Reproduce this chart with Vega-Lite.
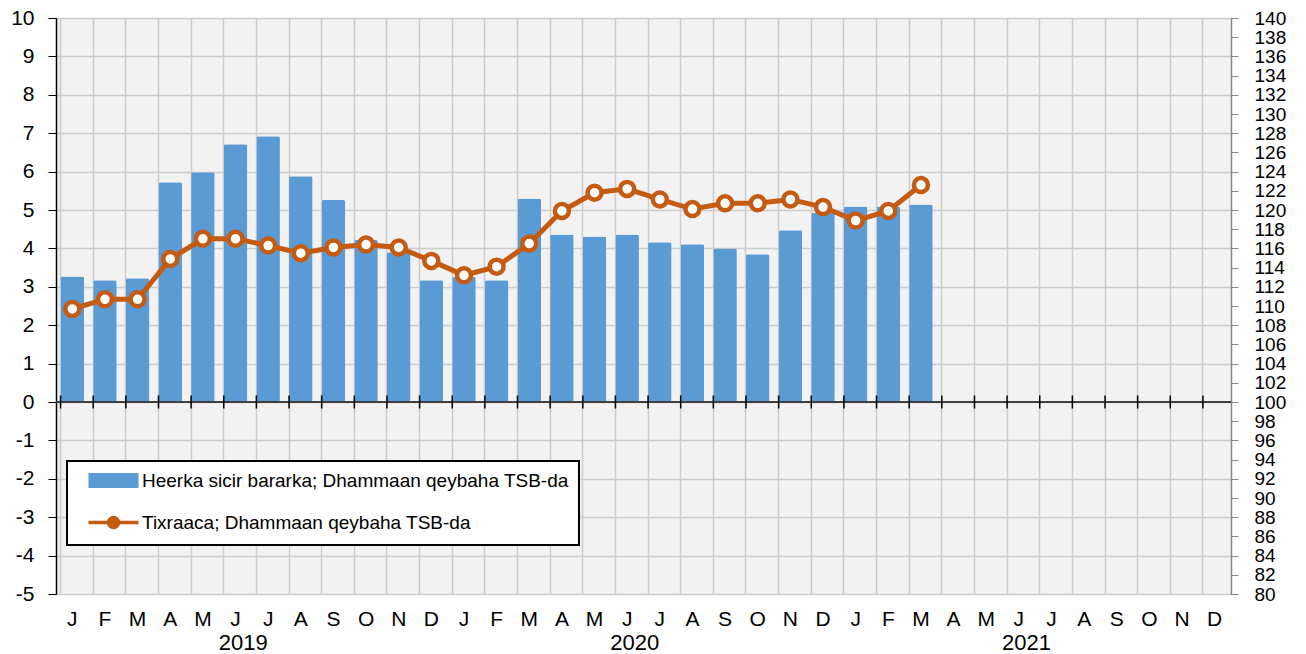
{
  "$schema": "https://vega.github.io/schema/vega-lite/v6.json",
  "width": 1175,
  "height": 576,
  "autosize": {"type": "none"},
  "padding": {"left": 56, "top": 18, "right": 75, "bottom": 60},
  "background": "white",
  "config": {
    "view": {"fill": "#f2f2f2", "stroke": "#000000", "strokeWidth": 1},
    "font": "Liberation Sans",
    "axis": {"labelFont": "Liberation Sans", "labelColor": "#000000", "titleFont": "Liberation Sans"}
  },
  "datasets": {
    "main": [
      {"m": "2019-01", "bar": 3.27, "idx": 109.7},
      {"m": "2019-02", "bar": 3.17, "idx": 110.7},
      {"m": "2019-03", "bar": 3.22, "idx": 110.7},
      {"m": "2019-04", "bar": 5.72, "idx": 114.9},
      {"m": "2019-05", "bar": 5.98, "idx": 117.0},
      {"m": "2019-06", "bar": 6.71, "idx": 117.0},
      {"m": "2019-07", "bar": 6.92, "idx": 116.3},
      {"m": "2019-08", "bar": 5.88, "idx": 115.5},
      {"m": "2019-09", "bar": 5.26, "idx": 116.1},
      {"m": "2019-10", "bar": 4.22, "idx": 116.4},
      {"m": "2019-11", "bar": 3.90, "idx": 116.1},
      {"m": "2019-12", "bar": 3.17, "idx": 114.7},
      {"m": "2020-01", "bar": 3.26, "idx": 113.2},
      {"m": "2020-02", "bar": 3.17, "idx": 114.1},
      {"m": "2020-03", "bar": 5.30, "idx": 116.5},
      {"m": "2020-04", "bar": 4.36, "idx": 119.9},
      {"m": "2020-05", "bar": 4.31, "idx": 121.8},
      {"m": "2020-06", "bar": 4.36, "idx": 122.2},
      {"m": "2020-07", "bar": 4.16, "idx": 121.1},
      {"m": "2020-08", "bar": 4.11, "idx": 120.1},
      {"m": "2020-09", "bar": 4.00, "idx": 120.7},
      {"m": "2020-10", "bar": 3.85, "idx": 120.7},
      {"m": "2020-11", "bar": 4.47, "idx": 121.1},
      {"m": "2020-12", "bar": 4.92, "idx": 120.3},
      {"m": "2021-01", "bar": 5.09, "idx": 118.9},
      {"m": "2021-02", "bar": 5.09, "idx": 119.9},
      {"m": "2021-03", "bar": 5.14, "idx": 122.6}
    ],
    "months": [
      {"m": "2019-01"}, {"m": "2019-02"}, {"m": "2019-03"}, {"m": "2019-04"}, {"m": "2019-05"}, {"m": "2019-06"},
      {"m": "2019-07"}, {"m": "2019-08"}, {"m": "2019-09"}, {"m": "2019-10"}, {"m": "2019-11"}, {"m": "2019-12"},
      {"m": "2020-01"}, {"m": "2020-02"}, {"m": "2020-03"}, {"m": "2020-04"}, {"m": "2020-05"}, {"m": "2020-06"},
      {"m": "2020-07"}, {"m": "2020-08"}, {"m": "2020-09"}, {"m": "2020-10"}, {"m": "2020-11"}, {"m": "2020-12"},
      {"m": "2021-01"}, {"m": "2021-02"}, {"m": "2021-03"}, {"m": "2021-04"}, {"m": "2021-05"}, {"m": "2021-06"},
      {"m": "2021-07"}, {"m": "2021-08"}, {"m": "2021-09"}, {"m": "2021-10"}, {"m": "2021-11"}, {"m": "2021-12"}
    ]
  },
  "resolve": {"scale": {"y": "independent"}, "axis": {"x": "independent", "y": "independent"}},
  "layer": [
    {
      "data": {"name": "main"},
      "mark": {"type": "bar", "cornerRadius": 2, "color": "#5b9bd5"},
      "encoding": {
        "x": {
          "field": "m", "type": "ordinal",
          "scale": {
            "domain": ["2019-01","2019-02","2019-03","2019-04","2019-05","2019-06","2019-07","2019-08","2019-09","2019-10","2019-11","2019-12","2020-01","2020-02","2020-03","2020-04","2020-05","2020-06","2020-07","2020-08","2020-09","2020-10","2020-11","2020-12","2021-01","2021-02","2021-03","2021-04","2021-05","2021-06","2021-07","2021-08","2021-09","2021-10","2021-11","2021-12"],
            "paddingInner": 0.28, "paddingOuter": 0.14
          },
          "axis": {
            "orient": "bottom", "title": null, "bandPosition": 0, "grid": true, "gridColor": "#cccccc", "gridWidth": 1.5,
            "ticks": false, "tickSize": 0, "domain": false, "labelAngle": 0, "labelFontSize": 21, "labelPadding": 14,
            "labelAlign": "center",
            "labelExpr": "['J','F','M','A','M','J','J','A','S','O','N','D'][toNumber(slice(datum.value,5,7))-1]"
          }
        },
        "y": {
          "field": "bar", "type": "quantitative",
          "scale": {"domain": [-5, 10], "nice": false, "zero": false},
          "axis": {
            "orient": "left", "title": null, "values": [-5,-4,-3,-2,-1,0,1,2,3,4,5,6,7,8,9,10],
            "labelExpr": "'' + datum.value",
            "grid": true, "gridColor": "#cccccc", "gridWidth": 1.5, "domainColor": "#000000", "domainWidth": 1.5,
            "tickColor": "#000000", "tickSize": 8, "labelFontSize": 21, "labelPadding": 14, "labelOverlap": false
          }
        },
        "color": {
          "datum": "Heerka sicir bararka; Dhammaan qeybaha TSB-da", "type": "nominal",
          "scale": {"domain": ["Heerka sicir bararka; Dhammaan qeybaha TSB-da", "Tixraaca; Dhammaan qeybaha TSB-da"], "range": ["#5b9bd5", "#c55a11"]},
          "legend": {
            "orient": "none", "legendX": 11, "legendY": 443, "title": null, "padding": 10,
            "strokeColor": "#000000", "fillColor": "#ffffff",
            "labelFontSize": 19, "labelFont": "Liberation Sans", "labelColor": "#000000", "labelLimit": 0,
            "symbolSize": 400, "rowPadding": 19, "symbolOffset": 27, "labelOffset": 19,
            "encode": {
              "legend": {"update": {"strokeWidth": {"value": 2}}},
              "symbols": {"update": {
                "shape": {"signal": "datum.value === 'Tixraaca; Dhammaan qeybaha TSB-da' ? 'M-2.5,0H-0.5M0.5,0H2.5M-0.5,0A0.5,0.5 0 1 0 0.5,0A0.5,0.5 0 1 0 -0.5,0' : 'M-2.5,-0.75H2.5V0.75H-2.5Z'"},
                "fill": {"signal": "datum.value === 'Tixraaca; Dhammaan qeybaha TSB-da' ? '#ffffff' : '#5b9bd5'"},
                "stroke": {"signal": "datum.value === 'Tixraaca; Dhammaan qeybaha TSB-da' ? '#c55a11' : '#5b9bd5'"},
                "strokeWidth": {"signal": "datum.value === 'Tixraaca; Dhammaan qeybaha TSB-da' ? 3.5 : 0"},
                "opacity": {"value": 1}
              }}
            }
          }
        }
      }
    },
    {
      "data": {"name": "main"},
      "mark": {"type": "rule", "color": "#404040", "strokeWidth": 1.5},
      "encoding": {
        "y": {"datum": 0, "type": "quantitative", "scale": {"domain": [-5, 10], "nice": false, "zero": false}, "axis": null}
      }
    },
    {
      "data": {"name": "months"},
      "mark": {"type": "rule", "color": "#000000", "strokeWidth": 1.5},
      "encoding": {
        "x": {"field": "m", "type": "ordinal", "bandPosition": 0, "axis": null},
        "y": {"datum": -0.17, "type": "quantitative", "scale": {"domain": [-5, 10], "nice": false, "zero": false}, "axis": null},
        "y2": {"datum": 0.17}
      }
    },
    {
      "data": {"name": "main"},
      "mark": {"type": "line", "color": "#c55a11", "strokeWidth": 5},
      "encoding": {
        "x": {
          "field": "m", "type": "ordinal",
          "axis": {
            "orient": "bottom", "offset": 38, "title": null, "values": ["2019-07", "2020-07", "2021-07"],
            "labelExpr": "slice(datum.value,0,4)", "ticks": false, "tickSize": 0, "domain": false,
            "grid": false, "labelFontSize": 22, "labelPadding": 0, "labelOffset": -25, "labelAngle": 0
          }
        },
        "y": {
          "field": "idx", "type": "quantitative",
          "scale": {"domain": [80, 140], "nice": false, "zero": false},
          "axis": {
            "orient": "right", "title": null,
            "values": [80,82,84,86,88,90,92,94,96,98,100,102,104,106,108,110,112,114,116,118,120,122,124,126,128,130,132,134,136,138,140],
            "grid": false, "domainColor": "#868686", "domainWidth": 1.5, "tickColor": "#868686", "tickSize": 7,
            "labelFontSize": 19, "labelPadding": 16, "labelOverlap": false, "labelBound": false
          }
        },
        "color": {"datum": "Tixraaca; Dhammaan qeybaha TSB-da", "type": "nominal"}
      }
    },
    {
      "data": {"name": "main"},
      "mark": {"type": "point", "shape": "circle", "filled": true, "fill": "#ffffff", "stroke": "#c55a11", "strokeWidth": 4.5, "size": 196, "opacity": 1},
      "encoding": {
        "x": {"field": "m", "type": "ordinal", "axis": null},
        "y": {"field": "idx", "type": "quantitative", "scale": {"domain": [80, 140], "nice": false, "zero": false}, "axis": null}
      }
    }
  ]
}
